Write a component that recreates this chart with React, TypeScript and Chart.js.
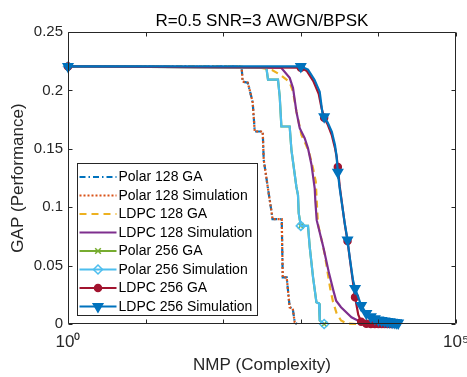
import React, { useEffect, useRef } from 'react';
import { Chart, registerables } from 'chart.js';
import { drawPoint } from 'chart.js/helpers';

Chart.register(...registerables);

const FONT = '"Liberation Sans", Arial, Helvetica, sans-serif';
Chart.defaults.font.family = FONT;

// ---------- data ----------
const chartTitle = 'R=0.5 SNR=3 AWGN/BPSK';
const xAxisTitle = 'NMP (Complexity)';
const yAxisTitle = 'GAP (Performance)';

const seriesLabels = [
  'Polar 128 GA',
  'Polar 128 Simulation',
  'LDPC 128 GA',
  'LDPC 128 Simulation',
  'Polar 256 GA',
  'Polar 256 Simulation',
  'LDPC 256 GA',
  'LDPC 256 Simulation',
];

const xTickValues = [1, 10, 100, 1000, 10000, 100000];
const xTickLabels = ['10⁰', '', '', '', '', '10⁵'];
const yTickValues = [0, 0.05, 0.1, 0.15, 0.2, 0.25];
const yTickLabels = ['0', '0.05', '0.1', '0.15', '0.2', '0.25'];

// x positions where markers are shown
const markerXs = [1, 1000, 2000, 3000, 4000, 5000, 6000, 7000, 8000, 9000, 10000, 11000, 12000, 13000, 14000, 15000, 16000, 17000, 18000];

const polar128X = [1, 163, 173, 178, 207, 219, 240, 255, 323, 333, 375, 398, 422, 432, 568, 585, 658, 719, 787, 835, 887];
const polar128GaY = [0.2205, 0.2203, 0.2195, 0.2075, 0.2066, 0.2006, 0.1895, 0.1648, 0.1648, 0.1405, 0.1173, 0.106, 0.0949, 0.0898, 0.0898, 0.04, 0.04, 0.0142, 0.0133, 0.0013, 0];
const polar128SimY = [0.2205, 0.2203, 0.2195, 0.2075, 0.2066, 0.2006, 0.1895, 0.1648, 0.1648, 0.1405, 0.1173, 0.106, 0.0949, 0.0898, 0.0898, 0.04, 0.04, 0.0142, 0.0133, 0.0013, 0];

const ldpc128GaX = [1, 163, 300, 426, 540, 719, 794, 877, 1018, 1175, 1303, 1437, 1560, 1589, 1660, 2031, 2243, 2400, 2600, 2900, 3300, 3900, 5200];
const ldpc128GaY = [0.2205, 0.2203, 0.2195, 0.2175, 0.2135, 0.207, 0.199, 0.182, 0.162, 0.153, 0.1448, 0.1333, 0.1218, 0.1104, 0.086, 0.06, 0.042, 0.03, 0.019, 0.009, 0.003, 0.0005, 0];

const ldpc128SimX = [1, 556, 719, 794, 877, 969, 1122, 1238, 1371, 1511, 1540, 1603, 1950, 2300, 2620, 2850, 3300, 4500, 5500, 6500];
const ldpc128SimY = [0.2205, 0.2195, 0.2107, 0.202, 0.182, 0.1677, 0.1591, 0.1505, 0.1366, 0.1162, 0.105, 0.0889, 0.066, 0.044, 0.029, 0.02, 0.0144, 0.0058, 0.0028, 0.0015];

const polar256X = [1, 360, 378, 508, 535, 562, 719, 757, 877, 920, 940, 1000, 1238, 1303, 1437, 1589, 1718, 1753, 2000];
const polar256GaY = [0.2205, 0.2195, 0.2092, 0.2092, 0.1948, 0.1691, 0.1691, 0.1491, 0.1175, 0.1104, 0.0949, 0.084, 0.084, 0.066, 0.0402, 0.0187, 0.0176, 0.003, 0];
const polar256SimY = [0.2205, 0.2195, 0.2092, 0.2092, 0.1948, 0.1691, 0.1691, 0.1491, 0.1175, 0.1104, 0.0949, 0.084, 0.084, 0.066, 0.0402, 0.0187, 0.0176, 0.003, 0];

const ldpc256GaX = [1, 1000, 1200, 1450, 1700, 1850, 2000, 2230, 2500, 2750, 2900, 3000, 3170, 3680, 4000, 4500, 5000, 5500, 6000, 7000, 8000, 9000, 10000, 11000, 12000, 13000, 14000, 15000];
const ldpc256GaY = [0.2205, 0.2195, 0.2165, 0.208, 0.197, 0.185, 0.1765, 0.1705, 0.162, 0.151, 0.143, 0.1345, 0.118, 0.086, 0.071, 0.045, 0.023, 0.008, 0.002, 0.0003, 0, 0, 0, 0, 0, 0, 0, 0];

const ldpc256SimX = [1, 1000, 1238, 1500, 1752, 1842, 1915, 2000, 2230, 2512, 2754, 2877, 3000, 3170, 3680, 4000, 4270, 4710, 5000, 6000, 7000, 8000, 9000, 10000, 11000, 12000, 13000, 14000, 15000, 16000, 17000, 18000];
const ldpc256SimY = [0.2205, 0.2205, 0.2178, 0.2092, 0.1989, 0.1877, 0.179, 0.1775, 0.1722, 0.1645, 0.1534, 0.1448, 0.13, 0.1164, 0.0864, 0.072, 0.0571, 0.0374, 0.0305, 0.0159, 0.009, 0.0062, 0.0045, 0.0035, 0.003, 0.0026, 0.0022, 0.0019, 0.0016, 0.0013, 0.001, 0.0008];

const seriesX = [polar128X, polar128X, ldpc128GaX, ldpc128SimX, polar256X, polar256X, ldpc256GaX, ldpc256SimX];
const seriesY = [polar128GaY, polar128SimY, ldpc128GaY, ldpc128SimY, polar256GaY, polar256SimY, ldpc256GaY, ldpc256SimY];

// ---------- styles ----------
type Style = {
  color: string;
  dash: number[];
  pointStyle?: string;
  radius?: number;
  rotation?: number;
  fill?: string;
};
const styles: Style[] = [
  { color: '#0072BD', dash: [6, 3, 1.5, 3] },
  { color: '#D95319', dash: [2, 2] },
  { color: '#EDB120', dash: [7, 5] },
  { color: '#7E2F8E', dash: [] },
  { color: '#77AC30', dash: [], pointStyle: 'crossRot', radius: 4, fill: 'rgba(0,0,0,0)' },
  { color: '#4DBEEE', dash: [], pointStyle: 'rectRot', radius: 4.5, fill: 'rgba(0,0,0,0)' },
  { color: '#A2142F', dash: [], pointStyle: 'circle', radius: 3.5, fill: '#A2142F' },
  { color: '#0072BD', dash: [], pointStyle: 'triangle', radius: 5.5, rotation: 180, fill: '#0072BD' },
];

const AXIS_COLOR = '#262626';

const matlabPlugin = {
  id: 'matlabAxes',
  afterDraw(chart: any) {
    const { ctx, chartArea: a, scales } = chart;
    ctx.save();
    // axes box
    ctx.strokeStyle = AXIS_COLOR;
    ctx.lineWidth = 1;
    ctx.setLineDash([]);
    const L = Math.round(a.left) + 0.5;
    const R = Math.round(a.right) - 0.5;
    const T = Math.round(a.top) + 0.5;
    const B = Math.round(a.bottom) - 0.5;
    ctx.beginPath();
    ctx.rect(L, T, R - L, B - T);
    ctx.stroke();
    const tl = 4;
    ctx.beginPath();
    xTickValues.forEach((v) => {
      const px = Math.round(scales.x.getPixelForValue(v)) + 0.5;
      ctx.moveTo(px, B);
      ctx.lineTo(px, B - tl);
      ctx.moveTo(px, T);
      ctx.lineTo(px, T + tl);
    });
    yTickValues.forEach((v) => {
      const py = Math.round(scales.y.getPixelForValue(v)) + 0.5;
      ctx.moveTo(L, py);
      ctx.lineTo(L + tl, py);
      ctx.moveTo(R, py);
      ctx.lineTo(R - tl, py);
    });
    ctx.stroke();

    // legend
    const lgLeft = Math.round(a.left + 9) + 0.5;
    const lgBottom = Math.round(a.bottom - 9) + 0.5;
    const rowH = 18.5;
    const lgTop = lgBottom - 152;
    const lgRight = lgLeft + 180;
    ctx.fillStyle = '#ffffff';
    ctx.fillRect(lgLeft, lgTop, lgRight - lgLeft, lgBottom - lgTop);
    ctx.strokeStyle = AXIS_COLOR;
    ctx.lineWidth = 1;
    ctx.strokeRect(lgLeft, lgTop, lgRight - lgLeft, lgBottom - lgTop);
    ctx.font = `14px ${FONT}`;
    ctx.textBaseline = 'middle';
    ctx.textAlign = 'left';
    seriesLabels.forEach((label, i) => {
      const st = styles[i];
      const y = lgTop + 13.5 + i * rowH;
      const x0 = lgLeft + 2;
      const x1 = lgLeft + 39;
      ctx.strokeStyle = st.color;
      ctx.lineWidth = 2;
      ctx.setLineDash(st.dash);
      ctx.beginPath();
      ctx.moveTo(x0, y);
      ctx.lineTo(x1, y);
      ctx.stroke();
      ctx.setLineDash([]);
      if (st.pointStyle) {
        ctx.fillStyle = st.fill || st.color;
        ctx.strokeStyle = st.color;
        ctx.lineWidth = 1.5;
        drawPoint(ctx, { pointStyle: st.pointStyle as any, radius: st.radius || 4, rotation: st.rotation || 0, borderWidth: 1.5 }, (x0 + x1) / 2, y);
      }
      ctx.fillStyle = '#000';
      ctx.fillText(label, x1 + 2, y + 0.5);
    });
    ctx.restore();
  },
};

export default function App() {
  const ref = useRef<HTMLCanvasElement>(null);
  useEffect(() => {
    const datasets = seriesLabels.map((label, i) => {
      const st = styles[i];
      const xs = seriesX[i];
      const ys = seriesY[i];
      return {
        label,
        data: xs.map((x, j) => ({ x, y: ys[j] })),
        borderColor: st.color,
        backgroundColor: st.fill || st.color,
        borderWidth: 2.2,
        borderDash: st.dash,
        tension: 0,
        fill: false,
        clip: false as any,
        order: 7 - i,
        pointStyle: (st.pointStyle || 'circle') as any,
        pointRotation: st.rotation || 0,
        pointBorderColor: st.color,
        pointBackgroundColor: st.fill || st.color,
        pointBorderWidth: 1.5,
        pointRadius: (ctx: any) =>
          st.pointStyle && ctx.raw && markerXs.includes(ctx.raw.x) ? st.radius : 0,
        pointHoverRadius: 0,
      };
    });

    const chart = new Chart(ref.current as HTMLCanvasElement, {
      type: 'line',
      data: { datasets },
      options: {
        responsive: false,
        animation: false,
        events: [],
        layout: { padding: { left: 0, right: 11, top: 0, bottom: 0 } },
        plugins: {
          legend: { display: false },
          tooltip: { enabled: false },
          title: {
            display: true,
            fullSize: false,
            text: chartTitle,
            color: '#000',
            font: { size: 17, weight: 'normal', family: FONT },
            padding: { top: 11.5, bottom: 0.1 },
          },
        },
        scales: {
          x: {
            type: 'logarithmic',
            min: 1,
            max: 100000,
            position: 'bottom',
            grid: { display: false, drawTicks: false },
            border: { display: false },
            afterBuildTicks: (s: any) => {
              s.ticks = xTickValues.map((v) => ({ value: v }));
            },
            afterFit: (s: any) => {
              s.height = 53;
              s.paddingLeft = 0;
              s.paddingRight = 0;
            },
            ticks: {
              autoSkip: false,
              maxRotation: 0,
              minRotation: 0,
              color: AXIS_COLOR,
              font: { size: 17 },
              padding: 8,
              callback: (_v: any, i: number) => xTickLabels[i],
            },
            title: {
              display: true,
              text: xAxisTitle,
              color: AXIS_COLOR,
              font: { size: 17 },
              padding: { top: 0, bottom: 1 },
            },
          },
          y: {
            type: 'linear',
            min: 0,
            max: 0.25,
            grid: { display: false, drawTicks: false },
            border: { display: false },
            afterBuildTicks: (s: any) => {
              s.ticks = yTickValues.map((v) => ({ value: v }));
            },
            afterFit: (s: any) => {
              s.width = 68;
              s.paddingTop = 0;
              s.paddingBottom = 0;
            },
            ticks: {
              color: AXIS_COLOR,
              font: { size: 15 },
              padding: 5,
              callback: (_v: any, i: number) => yTickLabels[i],
            },
            title: {
              display: true,
              text: yAxisTitle,
              color: AXIS_COLOR,
              font: { size: 17 },
              padding: { top: 8, bottom: 0 },
            },
          },
        },
      } as any,
      plugins: [matlabPlugin],
    });
    return () => chart.destroy();
  }, []);

  return (
    <div style={{ position: 'fixed', left: 0, top: 0, width: 467, height: 377, background: '#fff' }}>
      <canvas ref={ref} width={467} height={377} style={{ display: 'block', width: 467, height: 377 }} />
    </div>
  );
}
